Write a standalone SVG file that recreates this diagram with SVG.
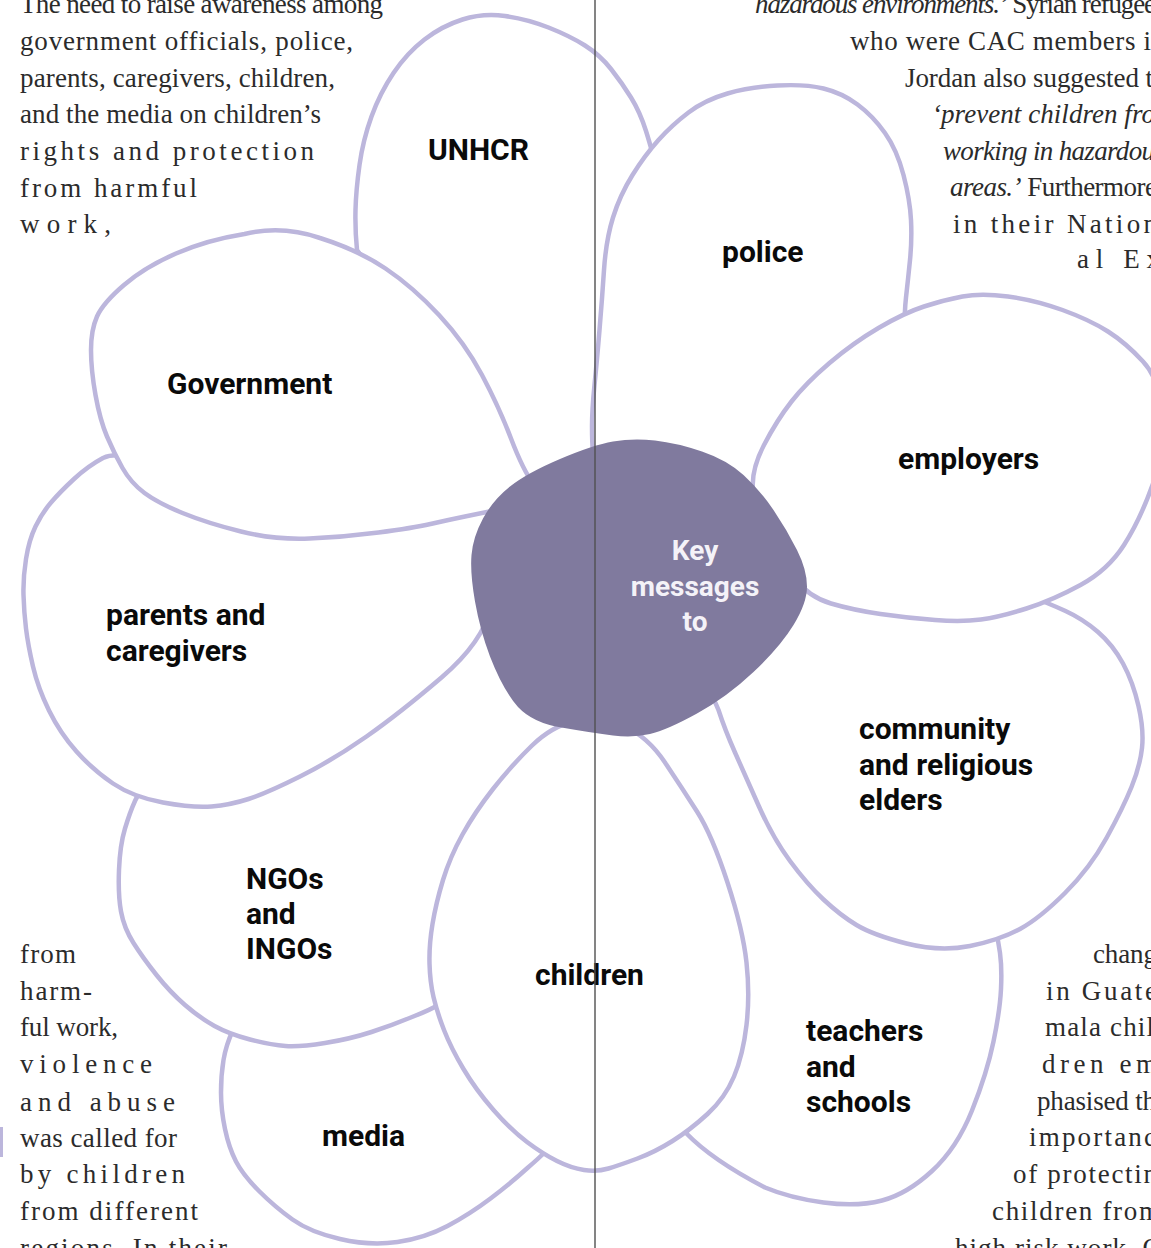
<svg xmlns="http://www.w3.org/2000/svg" width="1151" height="1248" viewBox="0 0 1151 1248">
<style>
.petal{fill:#ffffff;stroke:#bcb6dc;stroke-width:4.5;stroke-linejoin:round}
.lbl{font-family:Roboto,"Liberation Sans",sans-serif;font-weight:700;font-size:30px;fill:#0a0a0a}
.key{font-family:Roboto,"Liberation Sans",sans-serif;font-weight:700;font-size:28px;fill:#f4f2f8;text-anchor:middle}
.body{font-family:"Liberation Serif",serif;font-size:27px;fill:#2b2b2b}
.it{font-style:italic}
</style>
<rect width="1151" height="1248" fill="#ffffff"/>

<g id="text-top-left" class="body">
<text x="20" y="13" textLength="363">The need to raise awareness among</text>
<text x="20" y="50" textLength="333">government officials, police,</text>
<text x="20" y="87" textLength="315">parents, caregivers, children,</text>
<text x="20" y="123" textLength="301">and the media on children’s</text>
<text x="20" y="160" textLength="294">rights and protection</text>
<text x="20" y="197" textLength="177">from harmful</text>
<text x="20" y="233" textLength="91">work,</text>
</g>
<g id="text-top-right" class="body">
<text x="755" y="13" textLength="401"><tspan class="it">hazardous environments.’</tspan> Syrian refugee</text>
<text x="850" y="50" textLength="301">who were CAC members i</text>
<text x="905" y="87" textLength="248">Jordan also suggested t</text>
<text x="932" y="123" textLength="223" class="it">‘prevent children fro</text>
<text x="943" y="160" textLength="212" class="it">working in hazardou</text>
<text x="950" y="196" textLength="207"><tspan class="it">areas.’</tspan> Furthermore</text>
<text x="953" y="233" textLength="204">in their Nation</text>
<text x="1077" y="268" textLength="83">al Ex</text>
</g>
<g id="text-bottom-left" class="body">
<text x="20" y="963" textLength="56">from</text>
<text x="20" y="1000" textLength="72">harm-</text>
<text x="20" y="1036" textLength="98">ful work,</text>
<text x="20" y="1073" textLength="132">violence</text>
<text x="20" y="1111" textLength="155">and abuse</text>
<text x="20" y="1147" textLength="157">was called for</text>
<text x="20" y="1183" textLength="165">by children</text>
<text x="20" y="1220" textLength="178">from different</text>
<text x="20" y="1257" textLength="207">regions. In their</text>
</g>
<g id="text-bottom-right" class="body">
<text x="1093" y="963" textLength="64">chang</text>
<text x="1046" y="1000" textLength="111">in Guate</text>
<text x="1045" y="1036" textLength="109">mala chil</text>
<text x="1042" y="1073" textLength="115">dren em</text>
<text x="1037" y="1110" textLength="119">phasised th</text>
<text x="1029" y="1146" textLength="127">importanc</text>
<text x="1013" y="1183" textLength="144">of protectin</text>
<text x="992" y="1220" textLength="168">children from</text>
<text x="955" y="1257" textLength="207">high risk work. O</text>
</g>
<path d="M1.5,1127 L1.5,1157" stroke="#bcb6dc" stroke-width="3"/>

<g id="node-unhcr">
<path class="petal" d="M 370,268 L 357,250 Q 355,230 355.5,210 Q 356,190 359.5,165 Q 363,140 371.5,116.5 Q 380,93 393.5,73 Q 407,53 424.5,39.5 Q 442,26 462.5,19.5 Q 483,13 505,16 Q 527,19 548.5,27.5 Q 570,36 585,45.5 Q 600,55 611,69 Q 622,83 631,97.5 Q 640,112 646,131 Q 652,150 661,185 L 610,420 L 610,500 L 500,470 Z"/>
<text class="lbl" x="428" y="160">UNHCR</text>
</g>
<g id="node-police">
<path class="petal" d="M 595,470 L 593,452 Q 592,443 592,426.5 Q 592,410 594.5,385 Q 597,360 599.5,330 Q 602,300 604,270 Q 606,240 613,217.5 Q 620,195 632.5,175 Q 645,155 658.5,140 Q 672,125 688.5,112.5 Q 705,100 727.5,93.5 Q 750,87 777.5,85.5 Q 805,84 823.5,88.5 Q 842,93 857.5,104.5 Q 873,116 885,133 Q 897,150 903.5,175 Q 910,200 911,220 Q 912,240 910,260 Q 908,280 906,297.5 Q 904,315 904.5,347.5 L 850,420 L 780,500 L 720,520 Z"/>
<text class="lbl" x="722" y="262">police</text>
</g>
<g id="node-teachers">
<path class="petal" d="M 700,1112 L 686,1133 Q 712,1160 765,1187.5 Q 790,1198 823.5,1202.5 Q 857,1207 882,1200.5 Q 907,1194 932,1171 Q 957,1148 972,1110.5 Q 987,1073 993.5,1041.5 Q 1000,1010 1001,989 Q 1002,968 1000,953 Q 998,938 994,921.5 L 900,905 L 800,700 L 740,640 L 640,700 L 640,800 L 715,1000 Z"/>
<text class="lbl" x="806" y="1041">teachers<tspan x="806" dy="35.5">and</tspan><tspan x="806" dy="35.5">schools</tspan></text>
</g>
<g id="node-community">
<path class="petal" d="M 700,690 L 712,697 Q 716,703 718.5,710 Q 725,730 735,752.5 Q 745,775 759,806.5 Q 773,838 790,861 Q 807,884 823.5,899.5 Q 840,915 856.5,925 Q 873,935 906.5,943.5 Q 940,952 970,946 Q 1000,940 1020,929 Q 1040,918 1065,893 Q 1090,868 1106.5,838 Q 1123,808 1131.5,787 Q 1140,766 1142,748 Q 1144,730 1138.5,706 Q 1133,682 1123,663.5 Q 1113,645 1098,632 Q 1083,619 1065.5,611 Q 1048,603 1024,594 L 900,590 L 780,560 Z"/>
<text class="lbl" x="859" y="739">community<tspan x="859" dy="35.5">and religious</tspan><tspan x="859" dy="35.5">elders</tspan></text>
</g>
<g id="node-employers">
<path class="petal" d="M 753,490 Q 751,470 764,445 Q 777,420 791.5,401.5 Q 806,383 829.5,363 Q 853,343 878.5,328 Q 904,313 924,306.5 Q 944,300 962.5,296.5 Q 981,293 1008,296.5 Q 1035,300 1062.5,310 Q 1090,320 1108,331.5 Q 1126,343 1143,361.5 Q 1160,380 1162.5,415 Q 1165,450 1152.5,485 Q 1140,520 1124,545 Q 1108,570 1080.5,585 Q 1053,600 1026.5,608.5 Q 1000,617 981,619.5 Q 962,622 935,620 Q 908,618 880.5,614 Q 853,610 831,603.5 Q 809,597 794.5,578.5 Q 780,560 767.5,535 Q 755,510 753,490 Z"/>
<text class="lbl" x="898" y="469">employers</text>
</g>
<g id="node-media">
<path class="petal" d="M 250,1020 L 233,1030 Q 226,1045 223.5,1060 Q 221,1075 221,1092.5 Q 221,1110 225,1129 Q 229,1148 236,1161.5 Q 243,1175 259,1191 Q 275,1207 292.5,1219.5 Q 310,1232 340,1239 Q 370,1246 397.5,1242 Q 425,1238 447.5,1226 Q 470,1214 490.5,1198.5 Q 511,1183 528,1167.5 Q 538,1159 545,1152 L 500,1080 L 470,1000 L 420,990 Z"/>
<text class="lbl" x="322" y="1146">media</text>
</g>
<g id="node-ngos">
<path class="petal" d="M 200,780 L 150,790 Q 138,792 135,801 Q 130,812 125,828.5 Q 120,845 119,870 Q 118,895 121,911.5 Q 124,928 133.5,943 Q 143,958 156.5,975 Q 170,992 185,1005 Q 200,1018 214.5,1026 Q 229,1034 250,1039.5 Q 271,1045 285.5,1046 Q 300,1047 325,1043 Q 350,1039 371.5,1032 Q 393,1025 414.5,1016 Q 430,1010 440,1004 L 470,950 L 600,800 L 600,650 L 520,580 L 440,600 Z"/>
<text class="lbl" x="246" y="889">NGOs<tspan x="246" dy="35">and</tspan><tspan x="246" dy="35">INGOs</tspan></text>
</g>
<g id="node-parents">
<path class="petal" d="M 150,470 L 125,456 Q 112,454 103,458 Q 88,466 74,479 Q 60,492 51,502.5 Q 42,513 35.5,526.5 Q 29,540 26,559 Q 23,578 23.5,595 Q 24,612 26,628.5 Q 28,645 33,666.5 Q 38,688 49,710.5 Q 60,733 76.5,751.5 Q 93,770 113,783.5 Q 133,797 163,802.5 Q 193,808 211.5,806.5 Q 230,805 248.5,799 Q 267,793 300,776.5 Q 333,760 366.5,736.5 Q 400,713 441.5,677.5 Q 483,642 491.5,606 L 500,495 L 300,515 Z"/>
<text class="lbl" x="106" y="625">parents and<tspan x="106" dy="36">caregivers</tspan></text>
</g>
<g id="node-government">
<path class="petal" d="M 244.5,234 Q 282,225 320,238 Q 358,250 385.5,268.5 Q 413,287 439,315 Q 465,343 482,375 Q 499,407 511,438.5 Q 523,470 534,485 Q 545,500 513.5,506.5 Q 482,513 465,516.5 Q 448,520 430.5,524 Q 413,528 378.5,532.5 Q 344,537 309.5,538.5 Q 275,540 241,531.5 Q 207,523 182.5,513 Q 158,503 144.5,493 Q 131,483 122.5,468 Q 114,453 107,436.5 Q 100,420 95.5,395 Q 91,370 91,350 Q 91,330 97,316.5 Q 103,303 124,285 Q 145,267 176,253.5 Q 207,240 244.5,234 Z"/>
<text class="lbl" x="167" y="394">Government</text>
</g>
<g id="node-children">
<path class="petal" d="M 576,720.5 Q 552,726 531.5,746 Q 511,766 493,789 Q 475,812 462.5,834.5 Q 450,857 443,880 Q 436,903 432.5,924 Q 429,945 429.5,963.5 Q 430,982 433.5,997 Q 437,1012 444,1030 Q 451,1048 463.5,1069 Q 476,1090 493.5,1110 Q 511,1130 527,1142 Q 543,1154 557,1161 Q 571,1168 584,1170 Q 597,1172 608.5,1168.5 Q 620,1165 637.5,1158.5 Q 655,1152 672.5,1141 Q 690,1130 707.5,1114 Q 725,1098 734,1076.5 Q 743,1055 746.5,1025 Q 750,995 746.5,962.5 Q 743,930 727.5,882.5 Q 712,835 697,811.5 Q 682,788 665,762.5 Q 648,737 624,726 Q 600,715 576,720.5 Z"/>
<text class="lbl" x="535" y="985">children</text>
</g>
<g id="node-center">
<path fill="#807a9e" d="M 613,441.5 Q 633,438 655,440.5 Q 677,443 702,451.5 Q 727,460 743.5,475 Q 760,490 773.5,510 Q 787,530 797,550 Q 807,570 807,586.5 Q 807,603 793.5,625 Q 780,647 753.5,672 Q 727,697 697,713.5 Q 667,730 650,734 Q 633,738 613,735.5 Q 593,733 561.5,727.5 Q 533,723 518,707 Q 503,690 490,656.5 Q 480,630 475,601.5 Q 470,573 471.5,555 Q 473,537 483,518.5 Q 493,500 510,486.5 Q 527,473 560,459 Q 593,445 613,441.5 Z"/>
<text class="key" x="695" y="560">Key<tspan x="695" dy="35.5">messages</tspan><tspan x="695" dy="35.5">to</tspan></text>
</g>
<g id="connectors">
<line x1="595" y1="0" x2="595" y2="1248" stroke="#505050" stroke-width="1.4"/>
</g>
</svg>
